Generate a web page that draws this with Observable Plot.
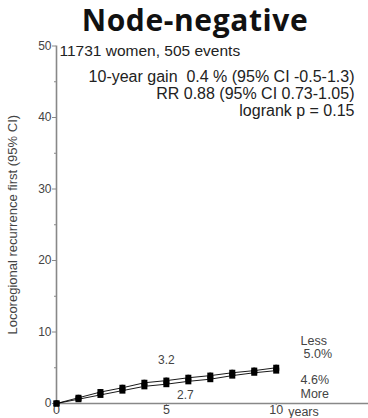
<!DOCTYPE html>
<html><head><meta charset="utf-8">
<script src="https://cdn.jsdelivr.net/npm/d3@7"></script>
<script src="https://cdn.jsdelivr.net/npm/@observablehq/plot@0.6"></script>
<style>
body{margin:0;background:#fff;width:368px;height:418px;overflow:hidden}
#title{height:40px;text-align:center;padding-left:22px;white-space:nowrap}
#title span{display:inline-block;font:bold 30px/normal "Open Sans",Lato,sans-serif;color:#111;letter-spacing:0.6px;margin-top:-1px}
</style></head><body>
<div id="title"><span>Node-negative</span></div>
<div id="chart"></div>
<script>
const years = [0,1,2,3,4,5,6,7,8,9,10];
const lessValues = [0,0.8,1.6,2.2,2.9,3.2,3.6,3.9,4.3,4.6,5.0];
const moreValues = [0,0.6,1.2,1.8,2.4,2.7,3.1,3.4,3.9,4.3,4.6];
const ciHalf = 0.35;
const yMajorTicks = [0,10,20,30,40,50];
const yMinorTicks = [5,15,25,35,45];
const xTicks = [0,5,10];
const annotations = [
  "11731 women, 505 events",
  "10-year gain  0.4 % (95% CI -0.5-1.3)",
  "RR 0.88 (95% CI 0.73-1.05)",
  "logrank p = 0.15"
];

const rows = [];
years.forEach((t,i)=>{
  rows.push({t, v: lessValues[i], s:"Less"});
  rows.push({t, v: moreValues[i], s:"More"});
});
const font = "'Liberation Sans', Arial, sans-serif";
const chart = Plot.plot({
  width: 368, height: 378,
  marginTop: 5.5, marginBottom: 15, marginLeft: 56, marginRight: 0,
  style: {fontFamily: font, background: "#fff", overflow: "visible"},
  x: {domain: [0, 14.2]},
  y: {domain: [0, 50]},
  marks: [
    Plot.axisY({ticks: yMajorTicks, tickSize: 4, tickPadding: 1, fontSize: 12, color: "#444", stroke: "#888", label: null}),
    Plot.axisY({ticks: yMinorTicks, tickSize: 2, text: null, stroke: "#888", label: null}),
    Plot.axisX({ticks: xTicks, tickSize: 2, tickPadding: 0, fontSize: 12.5, color: "#444", stroke: "#888", label: null}),
    Plot.ruleX([0], {y1: 0, y2: 50, stroke: "#888", strokeWidth: 1.6}),
    Plot.ruleY([0], {stroke: "#888", strokeWidth: 1.6}),
    Plot.text(["years"], {x: 10, y: 0, text: d=>d, textAnchor: "start", lineAnchor: "middle", dy: 8, dx: 12, fontSize: 12.5, fill: "#444"}),
    Plot.ruleX(rows, {x: "t", y1: d=>Math.max(0,d.v-ciHalf), y2: d=>d.v+ciHalf, stroke: "#000", strokeWidth: 2}),
    Plot.line(rows, {x: "t", y: "v", z: "s", stroke: "#000", strokeWidth: 0.9}),
    Plot.dot(rows, {x: "t", y: "v", symbol: "square", r: 3.4, fill: "#000"}),
    Plot.text([lessValues[5]], {x: 5, y: d=>d, text: d=>d.toFixed(1), dy: -20, dx: 0, fontSize: 12, fill: "#444"}),
    Plot.text([moreValues[5]], {x: 5, y: d=>d, text: d=>d.toFixed(1), dy: 11, dx: 19, fontSize: 12, fill: "#444"}),
    Plot.text(["Less"], {frameAnchor: "bottom-right", textAnchor: "start", lineAnchor: "middle", text: d=>d, dx: -68, dy: -63, fontSize: 12.5, fill: "#444"}),
    Plot.text([lessValues[10]], {frameAnchor: "bottom-right", textAnchor: "start", lineAnchor: "middle", text: d=>d.toFixed(1)+"%", dx: -65, dy: -50, fontSize: 12.5, fill: "#444"}),
    Plot.text([moreValues[10]], {frameAnchor: "bottom-right", textAnchor: "start", lineAnchor: "middle", text: d=>d.toFixed(1)+"%", dx: -68, dy: -23.5, fontSize: 12.5, fill: "#444"}),
    Plot.text(["More"], {frameAnchor: "bottom-right", textAnchor: "start", lineAnchor: "middle", text: d=>d, dx: -68, dy: -9.5, fontSize: 12.5, fill: "#444"}),
    Plot.text([annotations[0]], {frameAnchor: "top-left", textAnchor: "start", lineAnchor: "middle", text: d=>d, dx: 3, dy: 5.5, fontSize: 15.5, fill: "#222"}),
    Plot.text([annotations.slice(1).join("\n")], {frameAnchor: "top-right", textAnchor: "end", lineAnchor: "top", text: d=>d, dx: -14, dy: 24, lineHeight: 1.06, fontSize: 16, fill: "#222"}),
    Plot.text(["Locoregional recurrence first (95% CI)"], {frameAnchor: "left", textAnchor: "middle", rotate: -90, text: d=>d, dx: -44, fontSize: 13, fill: "#444"})
  ]
});
document.getElementById("chart").appendChild(chart);
</script>
</body></html>
